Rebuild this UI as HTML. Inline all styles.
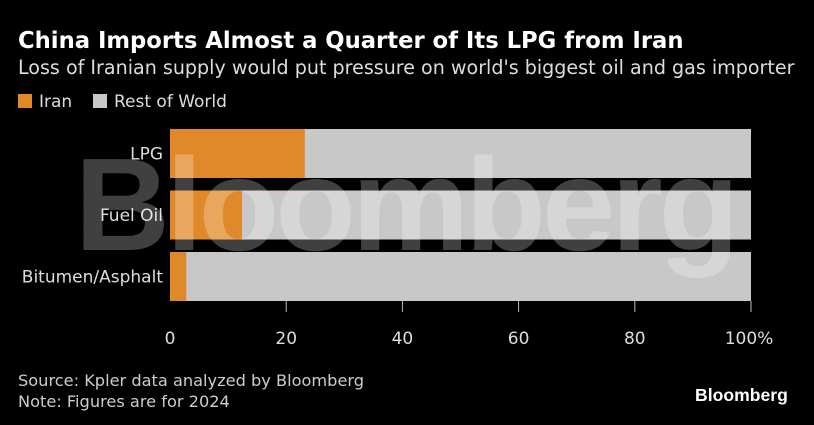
<!DOCTYPE html>
<html><head><meta charset="utf-8"><style>
body{margin:0;background:#000;width:814px;height:425px;overflow:hidden;font-family:"DejaVu Sans","Liberation Sans",sans-serif;color:#fff;position:relative}
.t{position:absolute;white-space:nowrap}
</style></head><body>
<div class="t" style="left:18px;top:28px;font-size:22.7px;font-weight:bold">China Imports Almost a Quarter of Its LPG from Iran</div>
<div class="t" style="left:18px;top:56px;font-size:19.1px;color:#ddd">Loss of Iranian supply would put pressure on world's biggest oil and gas importer</div>
<div class="t" style="left:18px;top:92px;font-size:17px;color:#ddd"><span style="display:inline-block;width:14px;height:14px;background:#e0892a;vertical-align:-1px;margin-right:7px"></span>Iran</div>
<div class="t" style="left:93px;top:92px;font-size:17px;color:#ddd"><span style="display:inline-block;width:14px;height:14px;background:#c8c8c8;vertical-align:-1px;margin-right:7px"></span>Rest of World</div>
<svg id="chart" width="814" height="425" style="position:absolute;left:0;top:0;font-family:'DejaVu Sans',sans-serif"></svg>
<div class="t" style="left:18px;top:370px;font-size:16.2px;color:#ccc;line-height:21px">Source: Kpler data analyzed by Bloomberg<br>Note: Figures are for 2024</div>
<div class="t" style="left:695px;top:385px;font-size:17.6px;font-weight:bold;font-family:'Liberation Sans',sans-serif">Bloomberg</div>
<script>
const categories=["LPG","Fuel Oil","Bitumen/Asphalt"];
const iranValues=[23.2,12.4,2.8];
const tickValues=[0,20,40,60,80,100];
const tickLabels=["0","20","40","60","80","100%"];
const svg=document.getElementById('chart');
const NS="http://www.w3.org/2000/svg";
const x0=170,x1=751;
const xs=v=>x0+(x1-x0)*v/100;
const bandTop=129,bandStep=61.5,barH=49;
function mk(t,a){const e=document.createElementNS(NS,t);for(const k in a)e.setAttribute(k,a[k]);svg.appendChild(e);return e;}
categories.forEach((c,i)=>{
  const y=bandTop+i*bandStep;
  const r=mk('rect',{x:xs(0),y:y,width:xs(100)-xs(0),height:barH,fill:'#c8c8c8'});
  
  
  const o=mk('rect',{x:xs(0),y:y,width:xs(iranValues[i])-xs(0),height:barH,fill:'#e0892a'});
  
  
  const l=mk('text',{x:163,y:y+barH/2+6,'text-anchor':'end','font-size':17,fill:'#ddd'});
  l.textContent=c;
  
  
});
tickValues.forEach((v,i)=>{
  if(v>0){const tk=mk('line',{x1:xs(v),x2:xs(v),y1:301,y2:312,stroke:'#bbb','stroke-width':1});
  
  }
  const t=mk('text',{x:xs(v)+(i==5?-2:0),y:344,'text-anchor':'middle','font-size':17,fill:'#ddd'});
  t.textContent=tickLabels[i];
  
  
});
const w=mk('text',{x:405,y:250,'text-anchor':'middle','font-size':132,'font-weight':'bold',fill:'#fff','fill-opacity':0.25,'letter-spacing':-4,'font-family':'Liberation Sans, sans-serif'});
w.textContent='Bloomberg';


</script>
</body></html>
